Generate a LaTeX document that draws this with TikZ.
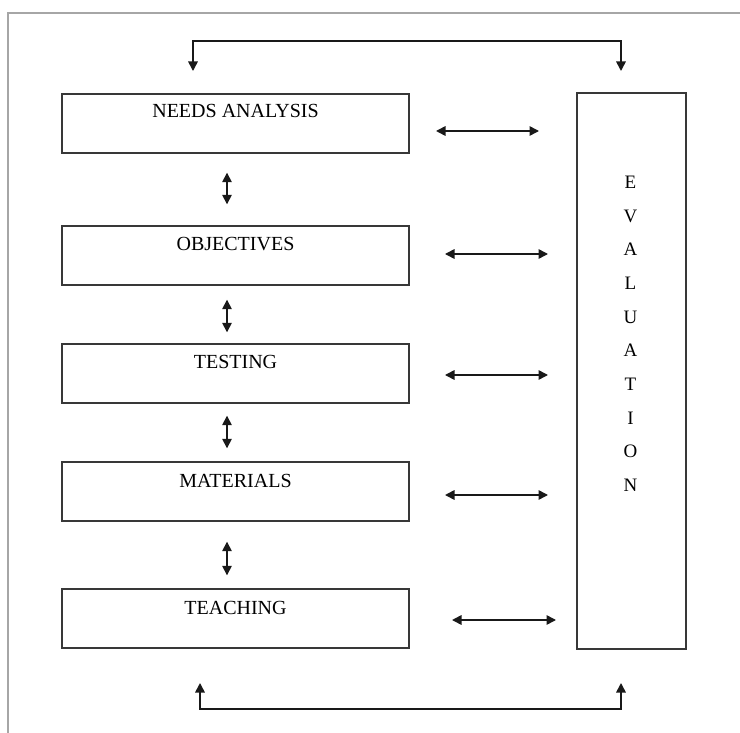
\documentclass[tikz,border=0pt]{standalone}
\usepackage{fontspec}
\setmainfont{Liberation Serif}
\usetikzlibrary{arrows.meta,calc}
\begin{document}
\begin{tikzpicture}[x=1pt,y=-1pt,
  box/.style={draw=black!78,line width=1.4pt,inner sep=0pt,minimum width=347pt,minimum height=59pt},
  evbox/.style={draw=black!78,line width=1.4pt,inner sep=0pt,minimum width=109pt,minimum height=556pt},
  lbl/.style={font=\fontsize{20}{22}\selectfont,anchor=base,inner sep=0pt},
  evl/.style={font=\fontsize{19}{22}\selectfont,anchor=base,inner sep=0pt},
  dbl/.style={{Triangle[length=9.5pt,width=9.5pt]}-{Triangle[length=9.5pt,width=9.5pt]},line width=1.6pt,black!90},
  frame/.style={draw=black!35,line width=1.5pt}]
\useasboundingbox (0,0) rectangle (740,733);
% page frame
\coordinate (fa) at (8,733);
\coordinate (fb) at (8,13);
\coordinate (fc) at (740,13);
\draw[frame] (fa) -- (fb) -- (fc);
% boxes
\node[box] (na) at (235.5,123.5) {};
\node[box] (ob) at (235.5,255.5) {};
\node[box] (te) at (235.5,373.5) {};
\node[box] (ma) at (235.5,491.5) {};
\node[box] (tc) at (235.5,618.5) {};
\node[evbox] (ev) at (631.5,371) {};
% labels
\node[lbl] (tna) at ([yshift=-24.5pt]na.north) {NEEDS ANALYSIS};
\node[lbl] (tob) at ([yshift=-25pt]ob.north) {OBJECTIVES};
\node[lbl] (tte) at ([yshift=-25pt]te.north) {TESTING};
\node[lbl] (tma) at ([yshift=-26.5pt]ma.north) {MATERIALS};
\node[lbl] (ttc) at ([yshift=-26.5pt]tc.north) {TEACHING};
\foreach \l [count=\i] in {E,V,A,L,U,A,T,I,O,N}
  \node[evl] (ev\i) at (630.5,{188.5+33.67*(\i-1)}) {\l};
% vertical double arrows
\coordinate (vx) at (227,0);
\draw[dbl,shorten <=19pt,shorten >=21pt] (na.south -| vx) -- (ob.north -| vx);
\draw[dbl,shorten <=14pt,shorten >=11pt] (ob.south -| vx) -- (te.north -| vx);
\draw[dbl,shorten <=12pt,shorten >=13pt] (te.south -| vx) -- (ma.north -| vx);
\draw[dbl,shorten <=20pt,shorten >=13pt] (ma.south -| vx) -- (tc.north -| vx);
% horizontal double arrows
\coordinate (h1a) at (436,131); \coordinate (h1b) at (539,131);
\coordinate (h2a) at (445,254); \coordinate (h2b) at (548,254);
\coordinate (h3a) at (445,375); \coordinate (h3b) at (548,375);
\coordinate (h4a) at (445,495); \coordinate (h4b) at (548,495);
\coordinate (h5a) at (452,620); \coordinate (h5b) at (556,620);
\foreach \i in {1,...,5} \draw[dbl] (h\i a) -- (h\i b);
% top loop
\coordinate (t1) at (193,71);
\coordinate (t2) at (621,71);
\coordinate (ty) at (0,41);
\draw[dbl] (t1) -- (t1 |- ty) -- (t2 |- ty) -- (t2);
% bottom loop
\coordinate (b1) at (200,683);
\coordinate (b2) at (621,683);
\coordinate (by) at (0,709);
\draw[dbl] (b1) -- (b1 |- by) -- (b2 |- by) -- (b2);
\end{tikzpicture}
\end{document}
